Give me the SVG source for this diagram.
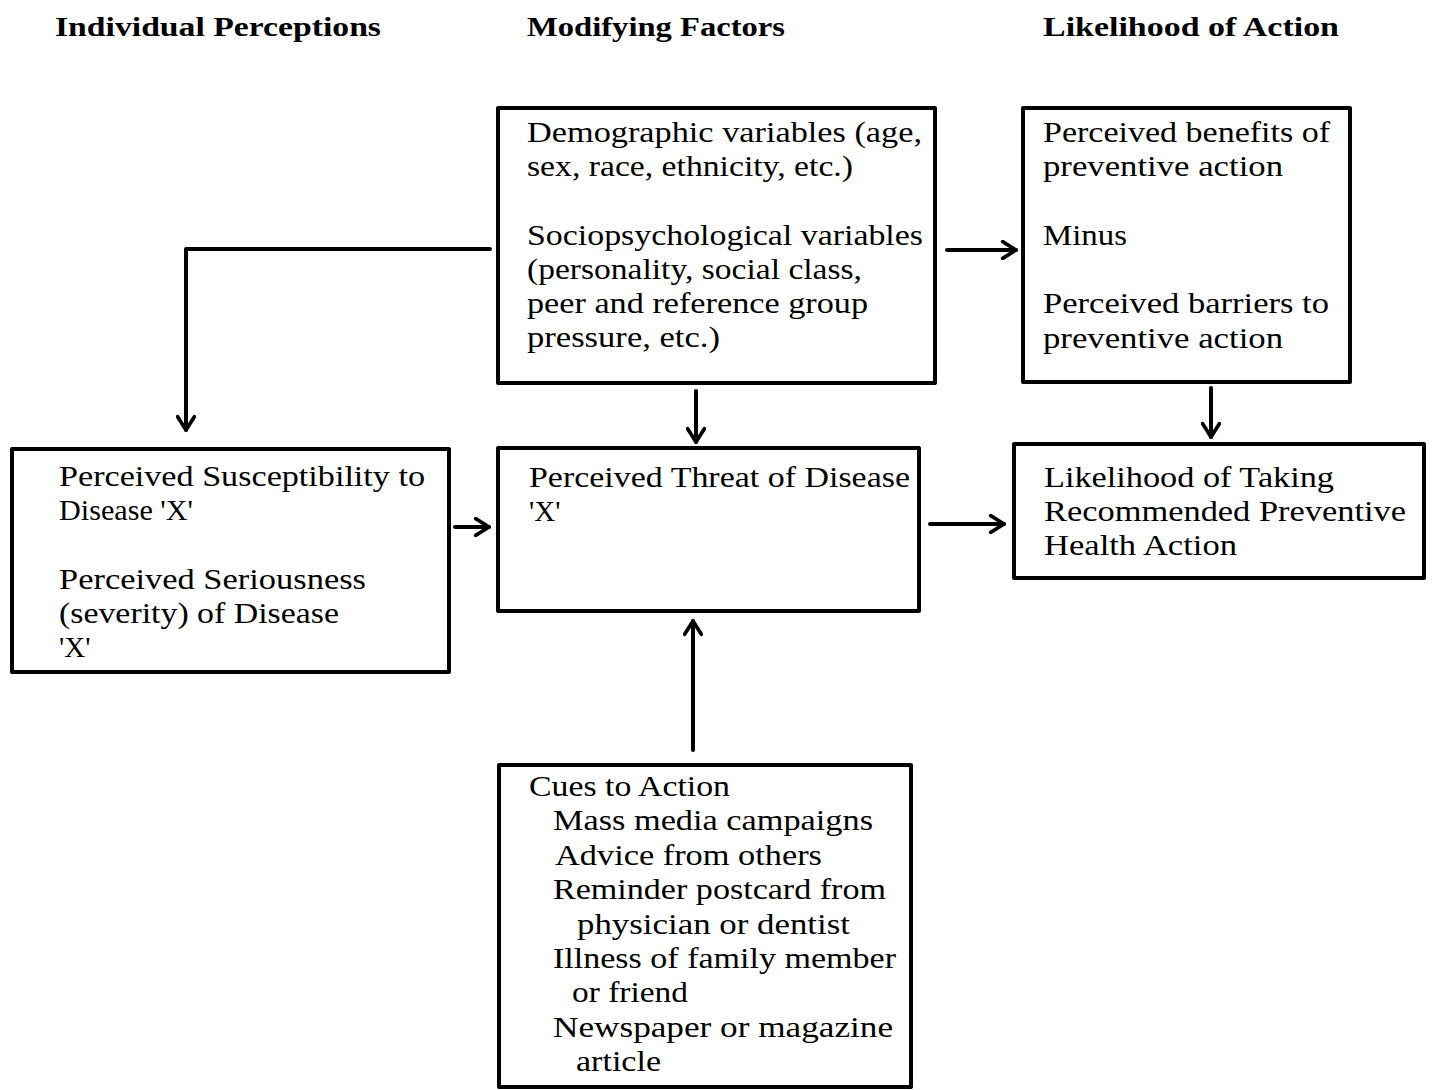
<svg xmlns="http://www.w3.org/2000/svg" width="1433" height="1090" viewBox="0 0 1433 1090">
  <style>
    .box { fill: #ffffff; stroke: #000000; stroke-width: 4; stroke-linejoin: round; }
    .t { font-family: "Liberation Serif", "Times New Roman", serif; font-size: 29px; fill: #000000; }
    .h { font-family: "Liberation Serif", "Times New Roman", serif; font-size: 27px; font-weight: bold; fill: #000000; }
    .wire { fill: none; stroke: #000000; stroke-width: 4; stroke-linecap: round; stroke-linejoin: round; }
  </style>
  <defs>
    <marker id="chev" viewBox="0 0 12 12" refX="10" refY="6" markerWidth="5" markerHeight="5" markerUnits="strokeWidth" orient="auto">
      <path d="M2,1 L10,6 L2,11" fill="none" stroke="#000000" stroke-width="2.2" stroke-linecap="round" stroke-linejoin="round"/>
    </marker>
  </defs>
  <rect width="1433" height="1090" fill="#ffffff"/>

  <!-- column headings -->
  <g id="headings">
    <text class="h" x="55" y="36" textLength="326" lengthAdjust="spacingAndGlyphs">Individual Perceptions</text>
    <text class="h" x="527" y="36" textLength="258" lengthAdjust="spacingAndGlyphs">Modifying Factors</text>
    <text class="h" x="1043" y="36" textLength="296" lengthAdjust="spacingAndGlyphs">Likelihood of Action</text>
  </g>

  <!-- connectors -->
  <g id="connectors">
    <polyline class="wire" points="490,249 186,249 186,430" marker-end="url(#chev)"/>
    <line class="wire" x1="696" y1="391" x2="696" y2="442" marker-end="url(#chev)"/>
    <line class="wire" x1="455" y1="527" x2="489" y2="527" marker-end="url(#chev)"/>
    <line class="wire" x1="930" y1="524" x2="1004" y2="524" marker-end="url(#chev)"/>
    <line class="wire" x1="947" y1="250" x2="1016" y2="250" marker-end="url(#chev)"/>
    <line class="wire" x1="1211" y1="388" x2="1211" y2="437" marker-end="url(#chev)"/>
    <line class="wire" x1="693" y1="750" x2="693" y2="621" marker-end="url(#chev)"/>
  </g>

  <g id="modifying-factors">
    <rect class="box" x="498" y="108" width="437" height="275"/>
    <text class="t" x="527" y="142" textLength="395" lengthAdjust="spacingAndGlyphs">Demographic variables (age,</text>
    <text class="t" x="527" y="176" textLength="326" lengthAdjust="spacingAndGlyphs">sex, race, ethnicity, etc.)</text>
    <text class="t" x="527" y="245" textLength="396" lengthAdjust="spacingAndGlyphs">Sociopsychological variables</text>
    <text class="t" x="527" y="279" textLength="335" lengthAdjust="spacingAndGlyphs">(personality, social class,</text>
    <text class="t" x="527" y="313" textLength="341" lengthAdjust="spacingAndGlyphs">peer and reference group</text>
    <text class="t" x="527" y="347" textLength="193" lengthAdjust="spacingAndGlyphs">pressure, etc.)</text>
  </g>

  <g id="benefits-barriers">
    <rect class="box" x="1023" y="108" width="327" height="274"/>
    <text class="t" x="1043" y="142" textLength="287" lengthAdjust="spacingAndGlyphs">Perceived benefits of</text>
    <text class="t" x="1043" y="176" textLength="240" lengthAdjust="spacingAndGlyphs">preventive action</text>
    <text class="t" x="1043" y="245" textLength="84" lengthAdjust="spacingAndGlyphs">Minus</text>
    <text class="t" x="1043" y="313" textLength="286" lengthAdjust="spacingAndGlyphs">Perceived barriers to</text>
    <text class="t" x="1043" y="348" textLength="240" lengthAdjust="spacingAndGlyphs">preventive action</text>
  </g>

  <g id="individual-perceptions">
    <rect class="box" x="12" y="449" width="437" height="223"/>
    <text class="t" x="59" y="486" textLength="366" lengthAdjust="spacingAndGlyphs">Perceived Susceptibility to</text>
    <text class="t" x="59" y="520" textLength="134" lengthAdjust="spacingAndGlyphs">Disease 'X'</text>
    <text class="t" x="59" y="589" textLength="307" lengthAdjust="spacingAndGlyphs">Perceived Seriousness</text>
    <text class="t" x="59" y="623" textLength="280" lengthAdjust="spacingAndGlyphs">(severity) of Disease</text>
    <text class="t" x="59" y="657">'X'</text>
  </g>

  <g id="perceived-threat">
    <rect class="box" x="498" y="448" width="421" height="163"/>
    <text class="t" x="529" y="487" textLength="381" lengthAdjust="spacingAndGlyphs">Perceived Threat of Disease</text>
    <text class="t" x="529" y="521">'X'</text>
  </g>

  <g id="likelihood-of-action">
    <rect class="box" x="1014" y="444" width="410" height="134"/>
    <text class="t" x="1044" y="487" textLength="290" lengthAdjust="spacingAndGlyphs">Likelihood of Taking</text>
    <text class="t" x="1044" y="521" textLength="362" lengthAdjust="spacingAndGlyphs">Recommended Preventive</text>
    <text class="t" x="1044" y="555" textLength="193" lengthAdjust="spacingAndGlyphs">Health Action</text>
  </g>

  <g id="cues-to-action">
    <rect class="box" x="499" y="765" width="412" height="322"/>
    <text class="t" x="529" y="796" textLength="201" lengthAdjust="spacingAndGlyphs">Cues to Action</text>
    <text class="t" x="553" y="830" textLength="320" lengthAdjust="spacingAndGlyphs">Mass media campaigns</text>
    <text class="t" x="555" y="865" textLength="267" lengthAdjust="spacingAndGlyphs">Advice from others</text>
    <text class="t" x="553" y="899" textLength="333" lengthAdjust="spacingAndGlyphs">Reminder postcard from</text>
    <text class="t" x="577" y="934" textLength="273" lengthAdjust="spacingAndGlyphs">physician or dentist</text>
    <text class="t" x="553" y="968" textLength="343" lengthAdjust="spacingAndGlyphs">Illness of family member</text>
    <text class="t" x="572" y="1002" textLength="116" lengthAdjust="spacingAndGlyphs">or friend</text>
    <text class="t" x="553" y="1037" textLength="340" lengthAdjust="spacingAndGlyphs">Newspaper or magazine</text>
    <text class="t" x="576" y="1071" textLength="85" lengthAdjust="spacingAndGlyphs">article</text>
  </g>
</svg>
